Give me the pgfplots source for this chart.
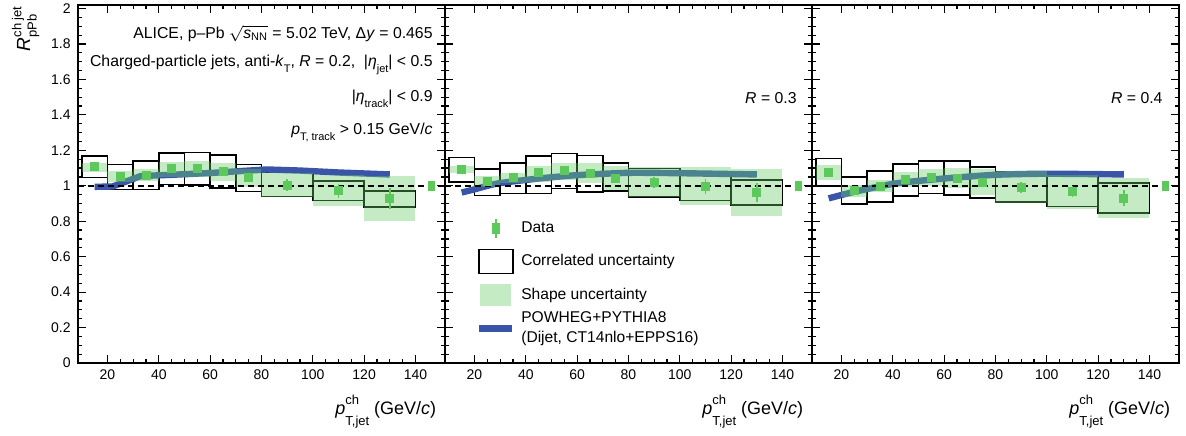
\documentclass[border=0pt]{standalone}
\usepackage{fontspec}
\setmainfont{Liberation Sans}
\usepackage{pgfplots}
\pgfplotsset{compat=1.18}

\definecolor{datagreen}{RGB}{93,201,93}
\definecolor{shapegreen}{RGB}{102,204,102}
\definecolor{powheg}{RGB}{58,85,168}

% sub/superscript text in the sans font
\newcommand{\sx}[1]{\mbox{\fontsize{5.5}{6}\selectfont #1}}
\newcommand{\sxl}[1]{\mbox{\fontsize{6.5}{7}\selectfont #1}}
\newcommand{\sub}[1]{\raisebox{-2.8pt}{\sx{#1}}}
\newcommand{\ptjet}{\textit{p}\rlap{\raisebox{5pt}{\sxl{ch}}}\raisebox{-5.5pt}{\sxl{T,jet}}\ (GeV/\textit{c})}
% fixed height of a legend row
\newcommand{\lrow}{\path[draw=none, fill=none] (0pt,-8.375pt) rectangle (17pt,8.375pt);}

% one correlated-uncertainty box / one shape-uncertainty box: xlo xhi ylo yhi
\newcommand{\corr}[4]{\addplot[draw=black, line width=0.8pt, line join=miter, forget plot]
  coordinates {(#1,#3) (#2,#3) (#2,#4) (#1,#4)} -- cycle;}
\newcommand{\shp}[4]{\addplot[draw=none, fill=shapegreen, fill opacity=0.39, forget plot]
  coordinates {(#1,#3) (#2,#3) (#2,#4) (#1,#4)} -- cycle;}
\newcommand{\norm}{\addplot[draw=none, fill=datagreen, forget plot]
  coordinates {(144.7,0.972) (147.7,0.972) (147.7,1.028) (144.7,1.028)} -- cycle;}
\newcommand{\unity}{\addplot[black, line width=0.8pt, dash pattern=on 3pt off 2pt, forget plot]
  coordinates {(8.4,1) (151.4,1)};}

\tikzset{
  note/.style={anchor=base east, inner sep=0pt, font=\fontsize{7.9}{9.5}\selectfont},
  xlab/.style={anchor=base east, inner sep=0pt, font=\fontsize{9}{11}\selectfont},
}
\pgfplotsset{
  panel/.style={
    width=183.5pt, height=179pt, scale only axis, clip=false,
    xmin=8.4, xmax=151.4, ymin=0, ymax=2.02,
    xtick={20,40,60,80,100,120,140},
    ytick={0,0.2,0.4,0.6,0.8,1,1.2,1.4,1.6,1.8,2},
    minor x tick num=3, minor y tick num=3,
    tick align=inside, major tick length=4pt, minor tick length=2pt,
    axis line style={line width=1pt},
    tick style={line width=0.6pt, black},
    ticklabel style={font=\fontsize{7}{8}\selectfont},
    /pgf/number format/assume math mode=true,
  },
  datapts/.style={only marks, mark=square*, mark size=2pt, datagreen, forget plot,
    error bars/.cd, y dir=both, y explicit, error mark=none,
    error bar style={line width=0.8pt, datagreen}},
  model/.style={powheg, line width=3.2pt, line join=round, forget plot},
}

\begin{document}
\begin{tikzpicture}

% ---------------- R = 0.2 ----------------
\begin{axis}[panel, name=p1, at={(0,0)}, anchor=south west]
\corr{10}{20}{1.047}{1.167}
\corr{20}{30}{0.979}{1.120}
\corr{30}{40}{0.979}{1.139}
\corr{40}{50}{1.008}{1.185}
\corr{50}{60}{1.003}{1.188}
\corr{60}{70}{0.989}{1.172}
\corr{70}{80}{0.968}{1.121}
\corr{80}{100}{0.940}{1.074}
\corr{100}{120}{0.917}{1.026}
\corr{120}{140}{0.879}{0.972}
\addplot[model] coordinates {(15,0.994) (22,0.996) (33,1.055) (45,1.062) (60,1.072)
  (72,1.083) (82,1.092) (95,1.086) (110,1.075) (130,1.064)};
\shp{10}{20}{1.079}{1.130}
\shp{20}{30}{1.023}{1.085}
\shp{30}{40}{1.028}{1.092}
\shp{40}{50}{1.047}{1.137}
\shp{50}{60}{1.047}{1.140}
\shp{60}{70}{1.026}{1.126}
\shp{70}{80}{0.995}{1.095}
\shp{80}{100}{0.936}{1.072}
\shp{100}{120}{0.885}{1.059}
\shp{120}{140}{0.803}{1.053}
\unity
\addplot[datapts] table[x=x, y=y, y error=e] {
x y e
15 1.107 0.008
25 1.055 0.008
35 1.060 0.008
45 1.096 0.010
55 1.098 0.010
65 1.083 0.014
75 1.045 0.026
90 1.004 0.035
110 0.972 0.040
130 0.928 0.057
};
\norm
\node[rotate=90, anchor=south east, inner sep=0pt, font=\fontsize{9.5}{11}\selectfont]
  at (rel axis cs:-0.1035,1) {\textit{R}$^{\sxl{ch jet}}_{\sxl{pPb}}$};
\node[note] at (rel axis cs:0.968,0.907)
  {ALICE, p–Pb $\sqrt{\mbox{\textit{s}}_{\sx{NN}}}$ = 5.02 TeV, Δ\textit{y} = 0.465};
\node[note] at (rel axis cs:0.968,0.828)
  {Charged-particle jets, anti-\textit{k}\sub{T}, \textit{R} = 0.2,\ \ |\textit{η}\sub{jet}| < 0.5};
\node[note] at (rel axis cs:0.968,0.730) {|\textit{η}\sub{track}| < 0.9};
\node[note] at (rel axis cs:0.968,0.637) {\textit{p}\sub{T, track} > 0.15 GeV/\textit{c}};
\node[xlab] at ([yshift=-25.7pt]rel axis cs:0.978,0) {\ptjet};
\end{axis}

% ---------------- R = 0.3 ----------------
\begin{axis}[panel, name=p2, at={(183.5pt,0)}, anchor=south west, yticklabels={},
  legend style={at={(rel axis cs:0,1)}, anchor=north west, xshift=15pt, yshift=-103pt,
    draw=none, fill=none, inner sep=0pt, column sep=3pt, row sep=0pt,
    font=\fontsize{7.8}{10}\selectfont, nodes={inner sep=0pt}},
  legend cell align=left]
\corr{10}{20}{1.021}{1.160}
\corr{20}{30}{0.945}{1.094}
\corr{30}{40}{0.957}{1.130}
\corr{40}{50}{0.957}{1.167}
\corr{50}{60}{0.985}{1.182}
\corr{60}{70}{0.966}{1.171}
\corr{70}{80}{0.970}{1.130}
\corr{80}{100}{0.936}{1.098}
\corr{100}{120}{0.917}{1.077}
\corr{120}{140}{0.893}{1.034}
\addplot[model, smooth, tension=0.4] coordinates {(15,0.962) (20,0.980) (29,1.013) (45,1.041)
  (60,1.060) (80,1.073) (100,1.071) (130,1.064)};
\shp{10}{20}{1.073}{1.113}
\shp{20}{30}{0.993}{1.053}
\shp{30}{40}{1.013}{1.073}
\shp{40}{50}{1.023}{1.111}
\shp{50}{60}{1.032}{1.126}
\shp{60}{70}{1.013}{1.126}
\shp{70}{80}{0.975}{1.110}
\shp{80}{100}{0.935}{1.105}
\shp{100}{120}{0.889}{1.105}
\shp{120}{140}{0.832}{1.092}
\unity
\addplot[datapts] table[x=x, y=y, y error=e] {
x y e
15 1.092 0.008
25 1.023 0.008
35 1.045 0.008
45 1.073 0.010
55 1.085 0.010
65 1.068 0.012
75 1.043 0.022
90 1.019 0.030
110 0.996 0.040
130 0.962 0.052
};
\norm
\node[note] at (rel axis cs:0.96,0.7235) {\textit{R} = 0.3};
\node[xlab] at ([yshift=-25.7pt]rel axis cs:0.978,0) {\ptjet};
\addlegendimage{legend image code/.code={\lrow
  \draw[datagreen, line width=0.8pt] (8.5pt,-4.8pt) -- (8.5pt,4.8pt);
  \fill[datagreen, draw=none] (6.4pt,-2.7pt) rectangle (10.6pt,2.7pt);}}
\addlegendentry{Data}
\addlegendimage{legend image code/.code={\lrow
  \draw[black, line width=0.8pt, fill=none] (0pt,-6pt) rectangle (17pt,6pt);}}
\addlegendentry{Correlated uncertainty}
\addlegendimage{legend image code/.code={\lrow
  \path[draw=none, fill=shapegreen, fill opacity=0.39] (0.5pt,-5.5pt) rectangle (16pt,5.5pt);}}
\addlegendentry{Shape uncertainty}
\addlegendimage{legend image code/.code={\lrow
  \draw[powheg, line width=3.6pt] (0pt,0pt) -- (16.5pt,0pt);}}
\addlegendentry{\raisebox{2.25pt}[10pt][5pt]{\begin{tabular}[c]{@{}l@{}}POWHEG+PYTHIA8\\(Dijet, CT14nlo+EPPS16)\end{tabular}}}
\end{axis}

% ---------------- R = 0.4 ----------------
\begin{axis}[panel, name=p3, at={(367pt,0)}, anchor=south west, yticklabels={}]
\corr{10}{20}{1.000}{1.154}
\corr{20}{30}{0.897}{1.051}
\corr{30}{40}{0.910}{1.085}
\corr{40}{50}{0.942}{1.122}
\corr{50}{60}{0.957}{1.141}
\corr{60}{70}{0.947}{1.139}
\corr{70}{80}{0.932}{1.107}
\corr{80}{100}{0.908}{1.077}
\corr{100}{120}{0.883}{1.056}
\corr{120}{140}{0.846}{1.015}
\addplot[model, smooth, tension=0.4] coordinates {(15,0.929) (25,0.966) (41,1.013) (60,1.041)
  (80,1.062) (100,1.068) (130,1.064)};
\shp{10}{20}{1.032}{1.117}
\shp{20}{30}{0.938}{1.006}
\shp{30}{40}{0.966}{1.032}
\shp{40}{50}{0.991}{1.075}
\shp{50}{60}{0.998}{1.092}
\shp{60}{70}{0.985}{1.098}
\shp{70}{80}{0.947}{1.092}
\shp{80}{100}{0.902}{1.085}
\shp{100}{120}{0.868}{1.062}
\shp{120}{140}{0.816}{1.043}
\unity
\addplot[datapts] table[x=x, y=y, y error=e] {
x y e
15 1.073 0.008
25 0.972 0.008
35 0.998 0.008
45 1.036 0.010
55 1.047 0.010
65 1.041 0.012
75 1.019 0.015
90 0.991 0.030
110 0.966 0.030
130 0.929 0.045
};
\norm
\node[note] at (rel axis cs:0.957,0.7235) {\textit{R} = 0.4};
\node[xlab] at ([yshift=-25.7pt]rel axis cs:0.978,0) {\ptjet};
\end{axis}

\pgfresetboundingbox
\useasboundingbox (-38.85pt,-36pt) rectangle (554.15pt,181.5pt);
\end{tikzpicture}
\end{document}
